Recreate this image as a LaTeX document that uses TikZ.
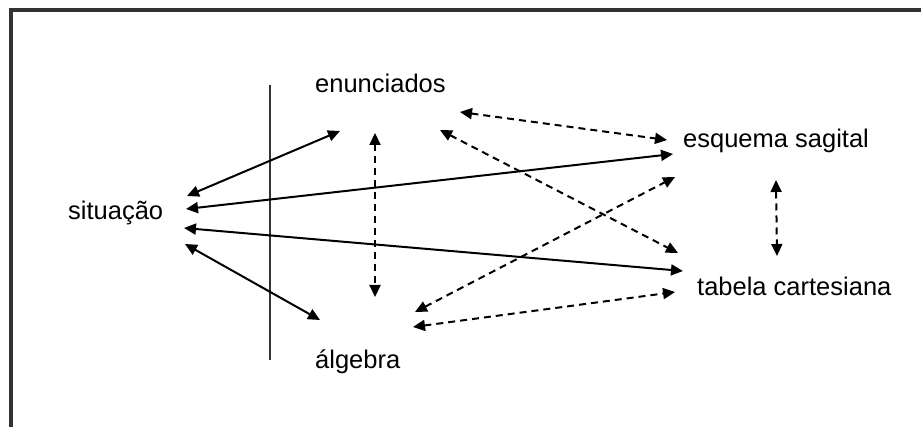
\documentclass[tikz,border=0pt]{standalone}
\usepackage{fontspec}
\setmainfont{Liberation Sans}
\usetikzlibrary{arrows.meta}
\tikzstyle{link} = [line width=2pt,{Triangle[length=12pt,width=11pt]}-{Triangle[length=12pt,width=11pt]}]
\tikzstyle{dlink} = [link,dash pattern={on 7pt off 5pt}]
\tikzstyle{word} = [anchor=base west,inner sep=0pt,font=\fontsize{25.5}{30}\selectfont]

\begin{document}
\begin{tikzpicture}[x=1pt,y=-1pt]
\useasboundingbox (0,0) rectangle (921,427);

%Frame
\draw [color={rgb, 255:red, 51; green, 51; blue, 51 }, line width=3.5pt] (11,427) -- (11,10) -- (921,10) ;
%Separator
\draw [color={rgb, 255:red, 51; green, 51; blue, 51 }, line width=2.2pt] (270,85) -- (270,360) ;

% Text Node
\node [word] (sit) at (68,220) {situação};
% Text Node
\node [word] (enun) at (315,93) {enunciados};
% Text Node
\node [word] (esq) at (683,148) {esquema sagital};
% Text Node
\node [word] (tab) at (697,296) {tabela cartesiana};
% Text Node
\node [word] (alg) at (315,369) {álgebra};

%Solid links from situação
\draw [link] ([shift={(119,-24)}]sit.base west) -- ([shift={(25,38)}]enun.base west) ;
\draw [link] ([shift={(118,-11)}]sit.base west) -- ([shift={(-10,6)}]esq.base west) ;
\draw [link] ([shift={(116,8)}]sit.base west) -- ([shift={(-14,-25)}]tab.base west) ;
\draw [link] ([shift={(117,24)}]sit.base west) -- ([shift={(5,-49)}]alg.base west) ;

%Dashed links
\draw [dlink] ([shift={(60,40)}]enun.base west) -- ([shift={(60,-72)}]alg.base west) ;
\draw [dlink] ([shift={(145,19)}]enun.base west) -- ([shift={(-16,-8)}]esq.base west) ;
\draw [dlink] ([shift={(125,37)}]enun.base west) -- ([shift={(-19,-43)}]tab.base west) ;
\draw [dlink] ([shift={(100,-57)}]alg.base west) -- ([shift={(-8,29)}]esq.base west) ;
\draw [dlink] ([shift={(98,-42)}]alg.base west) -- ([shift={(-22,-4)}]tab.base west) ;
\draw [dlink] ([shift={(93,32)}]esq.base west) -- ([shift={(80,-40)}]tab.base west) ;

\end{tikzpicture}
\end{document}
